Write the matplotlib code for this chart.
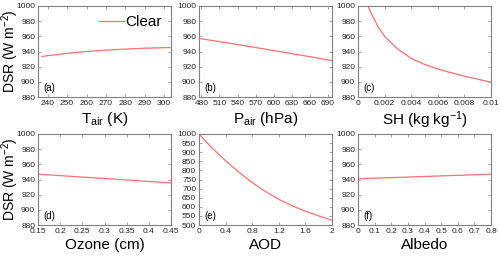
import matplotlib.pyplot as plt
import numpy as np

plt.rcParams['font.family'] = ['Liberation Sans', 'DejaVu Sans']
plt.rcParams['mathtext.fontset'] = 'custom'
plt.rcParams['mathtext.rm'] = 'Liberation Sans'
plt.rcParams['mathtext.it'] = 'Liberation Sans'

# data
tair = [237, 240, 250, 260, 270, 280, 290, 300, 303]
dsr_tair = [933.5, 934.5, 937.5, 940, 941.8, 943.2, 944.3, 945.0, 945.2]

pair = [478, 510, 540, 570, 600, 630, 660, 697]
dsr_pair = [957, 953, 949.2, 945.3, 941.2, 937.2, 933.2, 928]

sh = [0.0008, 0.001, 0.0015, 0.002, 0.003, 0.004, 0.005, 0.006, 0.007, 0.008, 0.009, 0.01]
dsr_sh = [998, 990, 973, 960, 943, 931, 923, 917, 912, 907.5, 903.5, 899.5]

ozone = [0.15, 0.3, 0.45]
dsr_ozone = [947, 941.3, 935.5]

aod = [0, 0.2, 0.4, 0.6, 0.8, 1.0, 1.2, 1.4, 1.6, 1.8, 2.0]
dsr_aod = [1000, 922, 853, 790, 733, 684, 641, 606, 576, 550, 526]

albedo = [0, 0.4, 0.8]
dsr_albedo = [941, 944, 947]

panels = [
    (tair, dsr_tair, 'T$_{\\rm air}$ (K)', (235, 303.5), np.arange(240, 301, 10), None, (880, 1000), np.arange(880, 1001, 20), '(a)'),
    (pair, dsr_pair, 'P$_{\\rm air}$ (hPa)', (476, 697), np.arange(480, 691, 30), None, (880, 1000), np.arange(880, 1001, 20), '(b)'),
    (sh, dsr_sh, 'SH (kg kg$^{-1}$)', (0, 0.01), np.arange(0, 0.0101, 0.002), ['0', '0.002', '0.004', '0.006', '0.008', '0.01'], (880, 1000), np.arange(880, 1001, 20), '(c)'),
    (ozone, dsr_ozone, 'Ozone (cm)', (0.15, 0.45), np.arange(0.15, 0.451, 0.05), ['0.15', '0.2', '0.25', '0.3', '0.35', '0.4', '0.45'], (880, 1000), np.arange(880, 1001, 20), '(d)'),
    (aod, dsr_aod, 'AOD', (0, 2), np.arange(0, 2.01, 0.4), ['0', '0.4', '0.8', '1.2', '1.6', '2'], (500, 1000), np.arange(500, 1001, 50), '(e)'),
    (albedo, dsr_albedo, 'Albedo', (0, 0.8), np.arange(0, 0.81, 0.1), ['0', '0.1', '0.2', '0.3', '0.4', '0.5', '0.6', '0.7', '0.8'], (880, 1000), np.arange(880, 1001, 20), '(f)'),
]

lefts = [38 / 500, 199 / 500, 358 / 500]
width = 133 / 500
bottoms = [1 - 97 / 256, 1 - 225 / 256]
height = 91 / 256

fig = plt.figure(figsize=(5, 2.56), dpi=100)
for i, (x, y, xl, xlim, xt, xtl, ylim, yt, tag) in enumerate(panels):
    ax = fig.add_axes([lefts[i % 3], bottoms[i // 3], width, height])
    ax.plot(x, y, color='#ff7070', lw=0.9, label='Clear')
    ax.set_xlim(xlim)
    ax.set_ylim(ylim)
    ax.set_xticks(xt)
    if xtl is not None:
        ax.set_xticklabels(xtl)
    ax.set_yticks(yt)
    ax.tick_params(direction='in', length=2, width=0.5, labelsize=6,
                   top=True, right=True, colors='#808080', labelcolor='#262626', pad=2)
    for s in ax.spines.values():
        s.set_color('#808080')
        s.set_linewidth(0.8)
    ax.set_xlabel(xl, fontsize=11, labelpad=2)
    if i % 3 == 0:
        ax.set_ylabel('DSR (W m$^{-2}$)', fontsize=10)
        ax.yaxis.set_label_coords(-0.13, 0.5)
    ax.text(0.04, 0.04, tag, transform=ax.transAxes, fontsize=7, va='bottom', ha='left')
    if i == 0:
        ax.legend(loc='upper right', frameon=False, fontsize=11, handlelength=1.6,
                  handletextpad=0.1, borderaxespad=0.2)

fig.savefig('out.png', dpi=100)
